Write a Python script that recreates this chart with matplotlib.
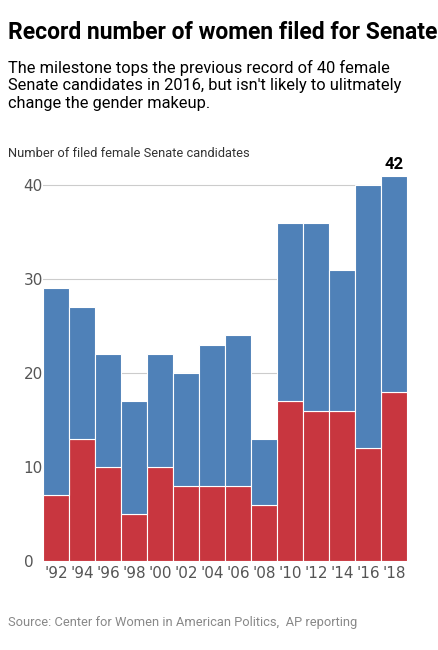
import numpy as np
import matplotlib.pyplot as plt

years = ["'92", "'94", "'96", "'98", "'00", "'02", "'04", "'06", "'08", "'10", "'12", "'14", "'16", "'18"]
total = [29, 27, 22, 17, 22, 20, 23, 24, 13, 36, 36, 31, 40, 41]
democrats = [7, 13, 10, 5, 10, 8, 8, 8, 6, 17, 16, 16, 12, 18]
top_label = "42"

blue = "#4f81b8"
red = "#c8363f"

fig = plt.figure(figsize=(4.39, 6.5), dpi=100)
ax = fig.add_axes([0.098, 0.137, 0.83, 0.6])

x = np.arange(len(years))
upper = np.array(total) - np.array(democrats)
ax.bar(x, democrats, width=1.0, color=red, edgecolor="white", linewidth=0.8)
ax.bar(x, upper, bottom=democrats, width=1.0, color=blue, edgecolor="white", linewidth=0.8)
ax.text(x[-1], total[-1] + 0.4, top_label, ha="center", va="bottom",
        fontsize=12, fontweight="bold", family=["Liberation Sans Narrow", "Roboto"])

ax.set_xlim(-0.5, len(years) - 0.5)
ax.set_ylim(0, 41.5)
ax.set_yticks([0, 10, 20, 30, 40])
ax.set_xticks(x)
ax.set_xticklabels(years)
ax.tick_params(length=0, labelsize=11, colors="#555555")
ax.tick_params(axis="y", pad=14)
for lab in ax.get_yticklabels():
    lab.set_horizontalalignment("left")
ax.grid(axis="y", color="#cccccc", linewidth=0.8)
ax.set_axisbelow(True)
for s in ax.spines.values():
    s.set_visible(False)

fig.text(0.018, 0.968, "Record number of women filed for Senate", fontsize=16.5, va="top",
         fontweight="bold", family=["Liberation Sans Narrow", "Roboto"])
fig.text(0.018, 0.908, "The milestone tops the previous record of 40 female\n"
         "Senate candidates in 2016, but isn't likely to ulitmately\n"
         "change the gender makeup.", fontsize=11.8, family="Roboto",
         linespacing=1.2, va="top")
fig.text(0.018, 0.758, "Number of filed female Senate candidates", fontsize=9.3,
         family="Roboto", color="#333333")
fig.text(0.018, 0.037, "Source: Center for Women in American Politics,  AP reporting",
         fontsize=9.3, family="Roboto", color="#888888")

fig.savefig("out.png", dpi=100)
